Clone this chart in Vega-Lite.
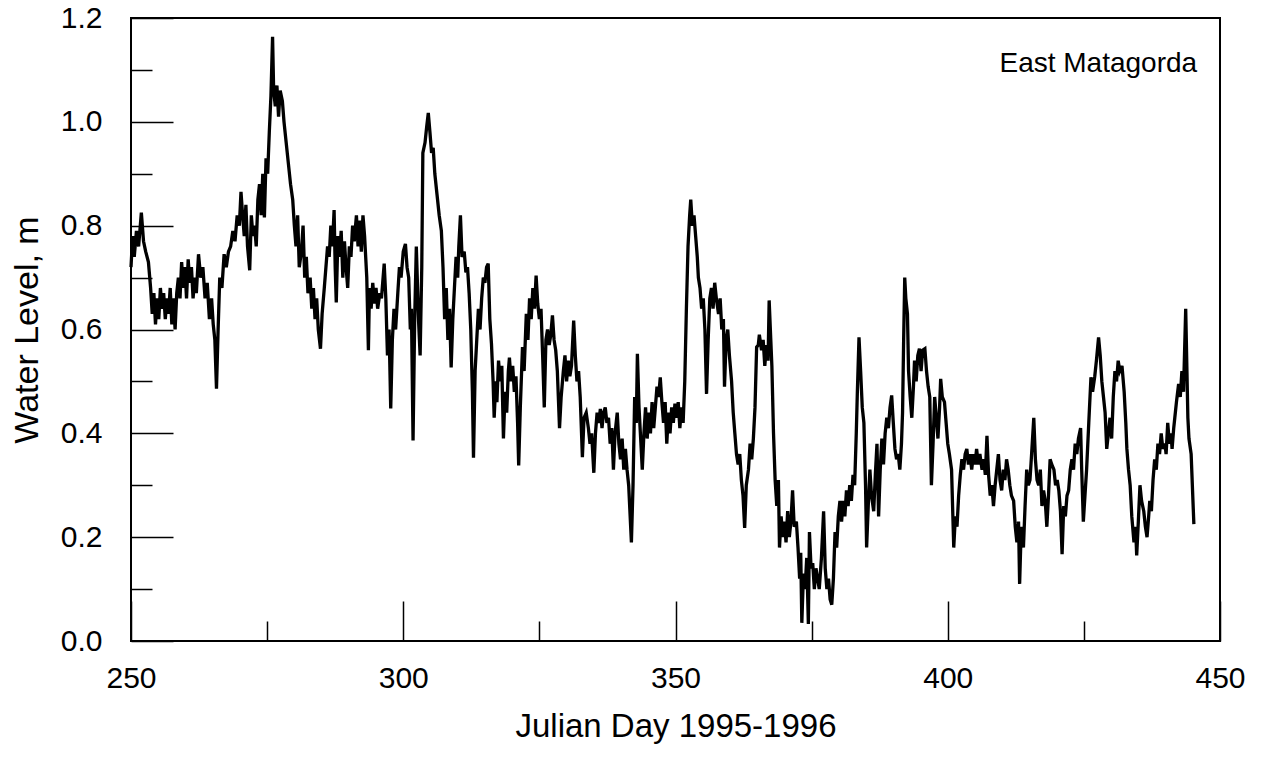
{
  "$schema": "https://vega.github.io/schema/vega-lite/v6.json",
  "width": 1089,
  "height": 623,
  "autosize": {"type": "none"},
  "padding": {"left": 131, "top": 18, "right": 42, "bottom": 118},
  "background": "white",
  "config": {
    "view": {"stroke": "black", "strokeWidth": 2},
    "font": "Liberation Sans",
    "axis": {"labelColor": "black", "titleColor": "black", "tickColor": "black", "domain": false, "grid": false, "labelFont": "Liberation Sans", "titleFont": "Liberation Sans", "titleFontWeight": "normal", "tickWidth": 1.5}
  },
  "datasets": {
    "wl": [
      {"day":250.0,"level":0.72},{"day":250.3,"level":0.78},{"day":250.6,"level":0.74},{"day":251.0,"level":0.79},{"day":251.4,"level":0.76},{"day":251.9,"level":0.825},{"day":252.3,"level":0.77},{"day":252.7,"level":0.75},{"day":253.2,"level":0.73},{"day":253.6,"level":0.68},{"day":253.9,"level":0.63},{"day":254.2,"level":0.67},{"day":254.5,"level":0.61},{"day":254.8,"level":0.66},{"day":255.1,"level":0.62},{"day":255.4,"level":0.68},{"day":255.7,"level":0.64},{"day":256.0,"level":0.67},{"day":256.3,"level":0.62},{"day":256.6,"level":0.66},{"day":256.9,"level":0.63},{"day":257.2,"level":0.68},{"day":257.5,"level":0.61},{"day":257.8,"level":0.66},{"day":258.1,"level":0.60},{"day":258.4,"level":0.67},{"day":258.7,"level":0.70},{"day":259.0,"level":0.66},{"day":259.3,"level":0.73},{"day":259.6,"level":0.68},{"day":259.9,"level":0.72},{"day":260.2,"level":0.66},{"day":260.5,"level":0.735},{"day":260.8,"level":0.69},{"day":261.1,"level":0.72},{"day":261.4,"level":0.66},{"day":261.7,"level":0.70},{"day":262.0,"level":0.67},{"day":262.4,"level":0.745},{"day":262.8,"level":0.70},{"day":263.2,"level":0.72},{"day":263.6,"level":0.66},{"day":264.0,"level":0.69},{"day":264.4,"level":0.62},{"day":264.8,"level":0.66},{"day":265.1,"level":0.61},{"day":265.4,"level":0.58},{"day":265.7,"level":0.486},{"day":266.0,"level":0.60},{"day":266.3,"level":0.70},{"day":266.7,"level":0.68},{"day":267.1,"level":0.745},{"day":267.5,"level":0.72},{"day":267.9,"level":0.75},{"day":268.3,"level":0.76},{"day":268.7,"level":0.79},{"day":269.1,"level":0.77},{"day":269.5,"level":0.82},{"day":269.9,"level":0.80},{"day":270.2,"level":0.865},{"day":270.5,"level":0.82},{"day":270.8,"level":0.78},{"day":271.1,"level":0.84},{"day":271.4,"level":0.76},{"day":271.8,"level":0.714},{"day":272.1,"level":0.82},{"day":272.4,"level":0.78},{"day":272.7,"level":0.80},{"day":273.0,"level":0.76},{"day":273.3,"level":0.85},{"day":273.6,"level":0.88},{"day":273.9,"level":0.82},{"day":274.2,"level":0.90},{"day":274.5,"level":0.816},{"day":274.8,"level":0.93},{"day":275.1,"level":0.90},{"day":275.4,"level":0.98},{"day":275.7,"level":1.05},{"day":276.0,"level":1.164},{"day":276.2,"level":1.06},{"day":276.5,"level":1.03},{"day":276.8,"level":1.07},{"day":277.1,"level":1.01},{"day":277.4,"level":1.06},{"day":277.8,"level":1.04},{"day":278.1,"level":1.0},{"day":278.5,"level":0.96},{"day":278.9,"level":0.92},{"day":279.3,"level":0.88},{"day":279.7,"level":0.85},{"day":280.0,"level":0.80},{"day":280.3,"level":0.76},{"day":280.6,"level":0.82},{"day":280.9,"level":0.72},{"day":281.3,"level":0.75},{"day":281.6,"level":0.80},{"day":281.9,"level":0.70},{"day":282.2,"level":0.74},{"day":282.5,"level":0.67},{"day":282.9,"level":0.70},{"day":283.2,"level":0.64},{"day":283.5,"level":0.68},{"day":283.8,"level":0.62},{"day":284.1,"level":0.66},{"day":284.4,"level":0.60},{"day":284.8,"level":0.563},{"day":285.1,"level":0.63},{"day":285.5,"level":0.68},{"day":285.8,"level":0.72},{"day":286.1,"level":0.76},{"day":286.4,"level":0.74},{"day":286.7,"level":0.80},{"day":287.0,"level":0.76},{"day":287.3,"level":0.83},{"day":287.5,"level":0.72},{"day":287.7,"level":0.652},{"day":288.0,"level":0.78},{"day":288.3,"level":0.74},{"day":288.6,"level":0.79},{"day":288.9,"level":0.70},{"day":289.2,"level":0.77},{"day":289.5,"level":0.72},{"day":289.8,"level":0.68},{"day":290.1,"level":0.76},{"day":290.4,"level":0.74},{"day":290.7,"level":0.80},{"day":291.0,"level":0.77},{"day":291.4,"level":0.82},{"day":291.7,"level":0.76},{"day":292.0,"level":0.81},{"day":292.3,"level":0.75},{"day":292.6,"level":0.82},{"day":292.9,"level":0.78},{"day":293.3,"level":0.70},{"day":293.6,"level":0.56},{"day":293.8,"level":0.68},{"day":294.1,"level":0.64},{"day":294.4,"level":0.69},{"day":294.7,"level":0.65},{"day":295.0,"level":0.68},{"day":295.3,"level":0.64},{"day":295.7,"level":0.67},{"day":296.0,"level":0.66},{"day":296.5,"level":0.727},{"day":296.8,"level":0.66},{"day":297.1,"level":0.55},{"day":297.4,"level":0.60},{"day":297.7,"level":0.448},{"day":298.0,"level":0.58},{"day":298.3,"level":0.64},{"day":298.6,"level":0.60},{"day":299.0,"level":0.67},{"day":299.3,"level":0.72},{"day":299.6,"level":0.70},{"day":300.0,"level":0.75},{"day":300.4,"level":0.765},{"day":300.7,"level":0.72},{"day":301.0,"level":0.70},{"day":301.3,"level":0.60},{"day":301.5,"level":0.64},{"day":301.8,"level":0.386},{"day":302.1,"level":0.62},{"day":302.4,"level":0.76},{"day":302.8,"level":0.62},{"day":303.1,"level":0.55},{"day":303.4,"level":0.72},{"day":303.6,"level":0.94},{"day":304.0,"level":0.96},{"day":304.3,"level":0.99},{"day":304.6,"level":1.017},{"day":304.9,"level":0.98},{"day":305.2,"level":0.94},{"day":305.5,"level":0.95},{"day":305.8,"level":0.90},{"day":306.2,"level":0.86},{"day":306.6,"level":0.82},{"day":307.0,"level":0.79},{"day":307.3,"level":0.72},{"day":307.6,"level":0.62},{"day":307.9,"level":0.68},{"day":308.2,"level":0.58},{"day":308.5,"level":0.64},{"day":308.8,"level":0.527},{"day":309.1,"level":0.62},{"day":309.4,"level":0.68},{"day":309.7,"level":0.74},{"day":310.0,"level":0.70},{"day":310.2,"level":0.76},{"day":310.5,"level":0.82},{"day":310.8,"level":0.74},{"day":311.2,"level":0.75},{"day":311.5,"level":0.71},{"day":311.8,"level":0.72},{"day":312.1,"level":0.67},{"day":312.4,"level":0.60},{"day":312.7,"level":0.48},{"day":312.9,"level":0.353},{"day":313.2,"level":0.52},{"day":313.5,"level":0.58},{"day":313.8,"level":0.64},{"day":314.1,"level":0.60},{"day":314.4,"level":0.66},{"day":314.7,"level":0.70},{"day":315.0,"level":0.69},{"day":315.3,"level":0.72},{"day":315.6,"level":0.727},{"day":315.9,"level":0.62},{"day":316.2,"level":0.573},{"day":316.5,"level":0.50},{"day":316.7,"level":0.43},{"day":317.0,"level":0.50},{"day":317.2,"level":0.46},{"day":317.5,"level":0.54},{"day":317.8,"level":0.50},{"day":318.1,"level":0.53},{"day":318.4,"level":0.39},{"day":318.7,"level":0.48},{"day":319.0,"level":0.44},{"day":319.3,"level":0.52},{"day":319.5,"level":0.546},{"day":319.8,"level":0.50},{"day":320.1,"level":0.53},{"day":320.4,"level":0.48},{"day":320.7,"level":0.51},{"day":321.0,"level":0.42},{"day":321.2,"level":0.338},{"day":321.5,"level":0.45},{"day":321.9,"level":0.566},{"day":322.2,"level":0.52},{"day":322.6,"level":0.63},{"day":322.9,"level":0.58},{"day":323.2,"level":0.66},{"day":323.5,"level":0.62},{"day":323.8,"level":0.68},{"day":324.1,"level":0.64},{"day":324.4,"level":0.704},{"day":324.7,"level":0.65},{"day":325.0,"level":0.62},{"day":325.3,"level":0.64},{"day":325.6,"level":0.55},{"day":325.9,"level":0.45},{"day":326.2,"level":0.58},{"day":326.5,"level":0.60},{"day":326.8,"level":0.57},{"day":327.1,"level":0.59},{"day":327.4,"level":0.627},{"day":327.7,"level":0.58},{"day":328.0,"level":0.56},{"day":328.3,"level":0.52},{"day":328.7,"level":0.41},{"day":329.0,"level":0.47},{"day":329.4,"level":0.52},{"day":329.7,"level":0.55},{"day":330.0,"level":0.50},{"day":330.3,"level":0.54},{"day":330.6,"level":0.51},{"day":330.9,"level":0.53},{"day":331.3,"level":0.617},{"day":331.6,"level":0.55},{"day":331.9,"level":0.50},{"day":332.2,"level":0.52},{"day":332.5,"level":0.47},{"day":332.9,"level":0.354},{"day":333.2,"level":0.43},{"day":333.6,"level":0.44},{"day":334.0,"level":0.41},{"day":334.3,"level":0.38},{"day":334.6,"level":0.40},{"day":335.0,"level":0.324},{"day":335.3,"level":0.40},{"day":335.6,"level":0.44},{"day":335.9,"level":0.42},{"day":336.2,"level":0.447},{"day":336.5,"level":0.41},{"day":336.8,"level":0.44},{"day":337.1,"level":0.45},{"day":337.4,"level":0.42},{"day":337.7,"level":0.43},{"day":338.0,"level":0.38},{"day":338.3,"level":0.41},{"day":338.6,"level":0.33},{"day":338.9,"level":0.40},{"day":339.3,"level":0.44},{"day":339.6,"level":0.38},{"day":339.9,"level":0.35},{"day":340.2,"level":0.39},{"day":340.5,"level":0.33},{"day":340.8,"level":0.37},{"day":341.1,"level":0.33},{"day":341.4,"level":0.30},{"day":341.9,"level":0.19},{"day":342.2,"level":0.30},{"day":342.5,"level":0.47},{"day":342.8,"level":0.42},{"day":343.0,"level":0.553},{"day":343.3,"level":0.45},{"day":343.6,"level":0.39},{"day":343.9,"level":0.33},{"day":344.2,"level":0.40},{"day":344.5,"level":0.45},{"day":344.8,"level":0.39},{"day":345.1,"level":0.44},{"day":345.4,"level":0.40},{"day":345.7,"level":0.46},{"day":346.0,"level":0.41},{"day":346.3,"level":0.45},{"day":346.6,"level":0.49},{"day":346.9,"level":0.47},{"day":347.2,"level":0.508},{"day":347.5,"level":0.46},{"day":347.8,"level":0.42},{"day":348.1,"level":0.46},{"day":348.4,"level":0.38},{"day":348.7,"level":0.44},{"day":349.0,"level":0.40},{"day":349.3,"level":0.45},{"day":349.6,"level":0.42},{"day":349.9,"level":0.457},{"day":350.2,"level":0.43},{"day":350.5,"level":0.46},{"day":350.8,"level":0.41},{"day":351.1,"level":0.45},{"day":351.4,"level":0.42},{"day":351.7,"level":0.50},{"day":352.0,"level":0.64},{"day":352.3,"level":0.76},{"day":352.6,"level":0.82},{"day":352.8,"level":0.85},{"day":353.1,"level":0.80},{"day":353.4,"level":0.82},{"day":353.7,"level":0.78},{"day":354.0,"level":0.74},{"day":354.2,"level":0.70},{"day":354.5,"level":0.68},{"day":354.8,"level":0.64},{"day":355.1,"level":0.66},{"day":355.4,"level":0.60},{"day":355.7,"level":0.476},{"day":356.0,"level":0.58},{"day":356.3,"level":0.66},{"day":356.6,"level":0.68},{"day":356.9,"level":0.64},{"day":357.2,"level":0.69},{"day":357.5,"level":0.66},{"day":357.9,"level":0.63},{"day":358.2,"level":0.66},{"day":358.5,"level":0.60},{"day":358.8,"level":0.62},{"day":359.0,"level":0.49},{"day":359.3,"level":0.58},{"day":359.6,"level":0.60},{"day":359.9,"level":0.55},{"day":360.3,"level":0.50},{"day":360.6,"level":0.44},{"day":360.9,"level":0.40},{"day":361.2,"level":0.36},{"day":361.5,"level":0.34},{"day":361.8,"level":0.36},{"day":362.1,"level":0.31},{"day":362.4,"level":0.28},{"day":362.7,"level":0.218},{"day":363.0,"level":0.30},{"day":363.4,"level":0.33},{"day":363.7,"level":0.38},{"day":364.0,"level":0.35},{"day":364.3,"level":0.39},{"day":364.6,"level":0.45},{"day":364.9,"level":0.566},{"day":365.2,"level":0.57},{"day":365.4,"level":0.59},{"day":365.8,"level":0.56},{"day":366.1,"level":0.58},{"day":366.4,"level":0.53},{"day":366.7,"level":0.57},{"day":367.0,"level":0.54},{"day":367.2,"level":0.656},{"day":367.5,"level":0.58},{"day":367.7,"level":0.53},{"day":368.0,"level":0.40},{"day":368.3,"level":0.31},{"day":368.6,"level":0.26},{"day":368.9,"level":0.31},{"day":369.1,"level":0.18},{"day":369.4,"level":0.24},{"day":369.7,"level":0.20},{"day":370.0,"level":0.23},{"day":370.3,"level":0.19},{"day":370.6,"level":0.25},{"day":370.9,"level":0.20},{"day":371.2,"level":0.23},{"day":371.5,"level":0.29},{"day":371.8,"level":0.22},{"day":372.2,"level":0.23},{"day":372.5,"level":0.18},{"day":372.8,"level":0.12},{"day":373.0,"level":0.17},{"day":373.2,"level":0.035},{"day":373.5,"level":0.13},{"day":373.8,"level":0.10},{"day":374.1,"level":0.16},{"day":374.4,"level":0.033},{"day":374.6,"level":0.21},{"day":374.9,"level":0.14},{"day":375.2,"level":0.15},{"day":375.5,"level":0.10},{"day":375.8,"level":0.14},{"day":376.1,"level":0.12},{"day":376.4,"level":0.10},{"day":376.8,"level":0.16},{"day":377.2,"level":0.25},{"day":377.5,"level":0.14},{"day":377.8,"level":0.10},{"day":378.1,"level":0.12},{"day":378.4,"level":0.08},{"day":378.7,"level":0.07},{"day":379.0,"level":0.12},{"day":379.3,"level":0.21},{"day":379.6,"level":0.18},{"day":379.9,"level":0.24},{"day":380.2,"level":0.27},{"day":380.5,"level":0.23},{"day":380.8,"level":0.27},{"day":381.1,"level":0.24},{"day":381.4,"level":0.29},{"day":381.7,"level":0.26},{"day":382.0,"level":0.30},{"day":382.3,"level":0.27},{"day":382.6,"level":0.32},{"day":382.9,"level":0.30},{"day":383.2,"level":0.40},{"day":383.4,"level":0.48},{"day":383.7,"level":0.585},{"day":384.0,"level":0.52},{"day":384.3,"level":0.45},{"day":384.6,"level":0.42},{"day":384.9,"level":0.30},{"day":385.1,"level":0.18},{"day":385.4,"level":0.26},{"day":385.7,"level":0.33},{"day":386.0,"level":0.28},{"day":386.4,"level":0.25},{"day":386.7,"level":0.32},{"day":387.0,"level":0.38},{"day":387.3,"level":0.24},{"day":387.6,"level":0.33},{"day":387.9,"level":0.39},{"day":388.2,"level":0.34},{"day":388.5,"level":0.40},{"day":388.8,"level":0.43},{"day":389.1,"level":0.41},{"day":389.4,"level":0.45},{"day":389.7,"level":0.473},{"day":390.0,"level":0.42},{"day":390.3,"level":0.37},{"day":390.6,"level":0.35},{"day":390.9,"level":0.36},{"day":391.2,"level":0.33},{"day":391.5,"level":0.38},{"day":391.7,"level":0.44},{"day":391.9,"level":0.58},{"day":392.1,"level":0.70},{"day":392.3,"level":0.66},{"day":392.6,"level":0.63},{"day":392.8,"level":0.52},{"day":393.1,"level":0.47},{"day":393.4,"level":0.43},{"day":393.7,"level":0.49},{"day":393.9,"level":0.54},{"day":394.2,"level":0.50},{"day":394.5,"level":0.55},{"day":394.8,"level":0.563},{"day":395.1,"level":0.52},{"day":395.4,"level":0.56},{"day":395.8,"level":0.563},{"day":396.1,"level":0.52},{"day":396.4,"level":0.49},{"day":396.7,"level":0.47},{"day":397.0,"level":0.30},{"day":397.3,"level":0.38},{"day":397.6,"level":0.47},{"day":397.9,"level":0.43},{"day":398.2,"level":0.39},{"day":398.5,"level":0.45},{"day":398.7,"level":0.505},{"day":399.0,"level":0.47},{"day":399.4,"level":0.46},{"day":399.7,"level":0.42},{"day":400.0,"level":0.38},{"day":400.3,"level":0.36},{"day":400.7,"level":0.33},{"day":401.1,"level":0.18},{"day":401.4,"level":0.24},{"day":401.7,"level":0.22},{"day":402.0,"level":0.28},{"day":402.3,"level":0.32},{"day":402.6,"level":0.35},{"day":402.9,"level":0.33},{"day":403.2,"level":0.36},{"day":403.5,"level":0.37},{"day":403.8,"level":0.34},{"day":404.1,"level":0.36},{"day":404.4,"level":0.33},{"day":404.7,"level":0.36},{"day":405.0,"level":0.34},{"day":405.3,"level":0.37},{"day":405.6,"level":0.34},{"day":405.9,"level":0.36},{"day":406.3,"level":0.33},{"day":406.6,"level":0.35},{"day":406.9,"level":0.32},{"day":407.2,"level":0.395},{"day":407.5,"level":0.32},{"day":407.8,"level":0.28},{"day":408.1,"level":0.30},{"day":408.4,"level":0.26},{"day":408.7,"level":0.30},{"day":409.0,"level":0.33},{"day":409.3,"level":0.36},{"day":409.6,"level":0.31},{"day":409.9,"level":0.29},{"day":410.2,"level":0.33},{"day":410.5,"level":0.31},{"day":410.8,"level":0.35},{"day":411.1,"level":0.33},{"day":411.4,"level":0.30},{"day":411.7,"level":0.28},{"day":412.1,"level":0.27},{"day":412.4,"level":0.22},{"day":412.7,"level":0.19},{"day":413.0,"level":0.23},{"day":413.2,"level":0.11},{"day":413.5,"level":0.22},{"day":413.9,"level":0.18},{"day":414.2,"level":0.26},{"day":414.5,"level":0.33},{"day":414.8,"level":0.30},{"day":415.1,"level":0.31},{"day":415.4,"level":0.36},{"day":415.8,"level":0.43},{"day":416.1,"level":0.35},{"day":416.4,"level":0.31},{"day":416.7,"level":0.30},{"day":417.0,"level":0.33},{"day":417.3,"level":0.26},{"day":417.6,"level":0.29},{"day":417.9,"level":0.27},{"day":418.2,"level":0.22},{"day":418.5,"level":0.28},{"day":418.8,"level":0.35},{"day":419.1,"level":0.34},{"day":419.5,"level":0.33},{"day":419.8,"level":0.30},{"day":420.1,"level":0.31},{"day":420.4,"level":0.29},{"day":420.7,"level":0.25},{"day":421.0,"level":0.167},{"day":421.3,"level":0.26},{"day":421.6,"level":0.24},{"day":421.9,"level":0.28},{"day":422.2,"level":0.29},{"day":422.5,"level":0.33},{"day":422.8,"level":0.35},{"day":423.1,"level":0.33},{"day":423.4,"level":0.38},{"day":423.7,"level":0.36},{"day":424.0,"level":0.39},{"day":424.4,"level":0.41},{"day":424.6,"level":0.33},{"day":424.9,"level":0.23},{"day":425.2,"level":0.28},{"day":425.5,"level":0.33},{"day":425.9,"level":0.42},{"day":426.3,"level":0.508},{"day":426.6,"level":0.48},{"day":427.0,"level":0.51},{"day":427.3,"level":0.54},{"day":427.7,"level":0.585},{"day":428.0,"level":0.55},{"day":428.3,"level":0.50},{"day":428.6,"level":0.47},{"day":428.9,"level":0.44},{"day":429.2,"level":0.37},{"day":429.5,"level":0.40},{"day":429.8,"level":0.43},{"day":430.1,"level":0.39},{"day":430.4,"level":0.47},{"day":430.7,"level":0.52},{"day":431.0,"level":0.50},{"day":431.3,"level":0.54},{"day":431.6,"level":0.52},{"day":432.0,"level":0.53},{"day":432.4,"level":0.48},{"day":432.7,"level":0.42},{"day":432.9,"level":0.37},{"day":433.2,"level":0.33},{"day":433.5,"level":0.30},{"day":433.8,"level":0.24},{"day":434.2,"level":0.19},{"day":434.5,"level":0.22},{"day":434.7,"level":0.165},{"day":435.0,"level":0.23},{"day":435.3,"level":0.30},{"day":435.6,"level":0.27},{"day":436.0,"level":0.25},{"day":436.3,"level":0.22},{"day":436.6,"level":0.20},{"day":436.9,"level":0.24},{"day":437.1,"level":0.27},{"day":437.4,"level":0.25},{"day":437.7,"level":0.31},{"day":438.0,"level":0.35},{"day":438.3,"level":0.33},{"day":438.6,"level":0.38},{"day":438.9,"level":0.36},{"day":439.2,"level":0.40},{"day":439.5,"level":0.37},{"day":439.9,"level":0.38},{"day":440.1,"level":0.36},{"day":440.4,"level":0.42},{"day":440.7,"level":0.38},{"day":441.0,"level":0.40},{"day":441.2,"level":0.37},{"day":441.5,"level":0.41},{"day":441.7,"level":0.43},{"day":442.0,"level":0.46},{"day":442.4,"level":0.495},{"day":442.7,"level":0.47},{"day":443.0,"level":0.52},{"day":443.3,"level":0.48},{"day":443.7,"level":0.64},{"day":444.1,"level":0.43},{"day":444.3,"level":0.39},{"day":444.7,"level":0.36},{"day":445.2,"level":0.225}
    ],
    "note": [{"label": "East Matagorda", "day": 445.8, "level": 1.112}]
  },
  "layer": [
    {
      "data": {"name": "wl"},
      "mark": {"type": "line", "color": "black", "strokeWidth": 3.3, "strokeJoin": "miter", "interpolate": "linear"},
      "encoding": {
        "x": {"field": "day", "type": "quantitative", "scale": {"domain": [250, 450], "nice": false, "zero": false},
          "axis": {"orient": "bottom", "title": "Julian Day 1995-1996", "values": [250, 300, 350, 400, 450], "tickSize": -40, "labelPadding": 62, "labelFontSize": 30, "titleFontSize": 33, "titlePadding": 17, "format": "d", "labelFlush": false}},
        "y": {"field": "level", "type": "quantitative", "scale": {"domain": [0, 1.2], "nice": false, "zero": false},
          "axis": {"orient": "left", "title": "Water Level, m", "values": [0, 0.2, 0.4, 0.6, 0.8, 1.0, 1.2], "tickSize": -42, "labelPadding": 71, "labelFontSize": 30, "titleFontSize": 34, "titlePadding": 16, "format": ".1f", "labelFlush": false}}
      }
    },
    {
      "data": {"name": "note"},
      "mark": {"type": "text", "align": "right", "baseline": "middle", "fontSize": 28, "font": "Liberation Sans", "color": "black"},
      "encoding": {
        "x": {"field": "day", "type": "quantitative", "axis": {"orient": "bottom", "values": [275, 325, 375, 425], "tickSize": -20, "labels": false, "title": null, "domain": false}},
        "y": {"field": "level", "type": "quantitative", "axis": {"orient": "left", "values": [0.1, 0.3, 0.5, 0.7, 0.9, 1.1], "tickSize": -21, "labels": false, "title": null, "domain": false}},
        "text": {"field": "label"}
      }
    }
  ],
  "resolve": {"axis": {"x": "independent", "y": "independent"}}
}
